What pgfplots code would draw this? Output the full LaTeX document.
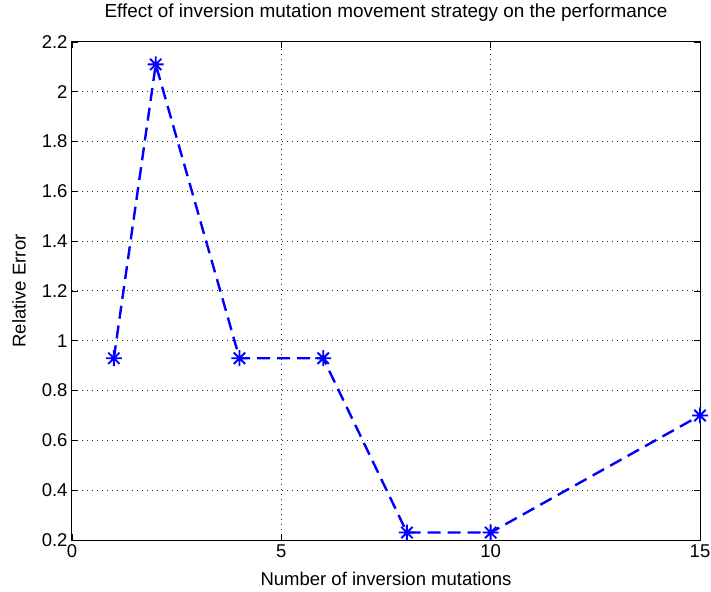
\documentclass[border=0pt]{standalone}
\usepackage{fontspec}
\setmainfont{Liberation Sans}
\usepackage{pgfplots}
\pgfplotsset{compat=1.18}
\pgfdeclareplotmark{mstar}{%
  \pgfpathmoveto{\pgfqpoint{-\pgfplotmarksize}{0pt}}\pgfpathlineto{\pgfqpoint{\pgfplotmarksize}{0pt}}%
  \pgfpathmoveto{\pgfqpoint{0pt}{-\pgfplotmarksize}}\pgfpathlineto{\pgfqpoint{0pt}{\pgfplotmarksize}}%
  \pgfpathmoveto{\pgfqpoint{-0.707\pgfplotmarksize}{-0.707\pgfplotmarksize}}\pgfpathlineto{\pgfqpoint{0.707\pgfplotmarksize}{0.707\pgfplotmarksize}}%
  \pgfpathmoveto{\pgfqpoint{-0.707\pgfplotmarksize}{0.707\pgfplotmarksize}}\pgfpathlineto{\pgfqpoint{0.707\pgfplotmarksize}{-0.707\pgfplotmarksize}}%
  \pgfusepathqstroke}
\begin{document}
\begin{tikzpicture}
\begin{axis}[
  scale only axis,
  width=628bp, height=498bp,
  xmin=0, xmax=15, ymin=0.2, ymax=2.2,
  xtick={0,5,10,15},
  ytick={0.2,0.4,...,2.2},
  yticklabel style={/pgf/number format/fixed,/pgf/number format/precision=1},
  /pgf/number format/assume math mode=true,
  tick align=inside,
  major tick length=6bp,
  tick style={black, line width=0.8pt},
  axis line style={line width=1bp},
  grid=major,
  grid style={black!85, line width=1bp, dash pattern=on 1bp off 4bp},
  ticklabel style={font=\fontsize{18.5bp}{20bp}\selectfont},
  xticklabel style={yshift=-1bp},
  yticklabel style={xshift=-1bp},
  title={Effect of inversion mutation movement strategy on the performance},
  title style={font=\fontsize{18.9bp}{20bp}\selectfont, at={(axis description cs:0.5,1)}, anchor=center, yshift=23bp},
  xlabel={Number of inversion mutations},
  ylabel={Relative Error},
  label style={font=\fontsize{18.5bp}{20bp}\selectfont},
  xlabel style={at={(axis description cs:0.5,0)}, anchor=center, yshift=-39bp},
  ylabel style={at={([xshift=-53bp]axis description cs:0,0.5)}, anchor=center},
  clip=false,
]
\addplot[blue, line width=2.4bp, dash pattern=on 13bp off 7bp, mark=mstar, mark size=8bp, mark options={solid, line width=1.9bp}]
coordinates {(1,0.93) (2,2.11) (4,0.93) (6,0.93) (8,0.23) (10,0.23) (15,0.70)};
\end{axis}
\pgfresetboundingbox
\path ([shift={(-72bp,-52bp)}]current axis.south west) rectangle ([shift={(11bp,42bp)}]current axis.north east);
\end{tikzpicture}
\end{document}
